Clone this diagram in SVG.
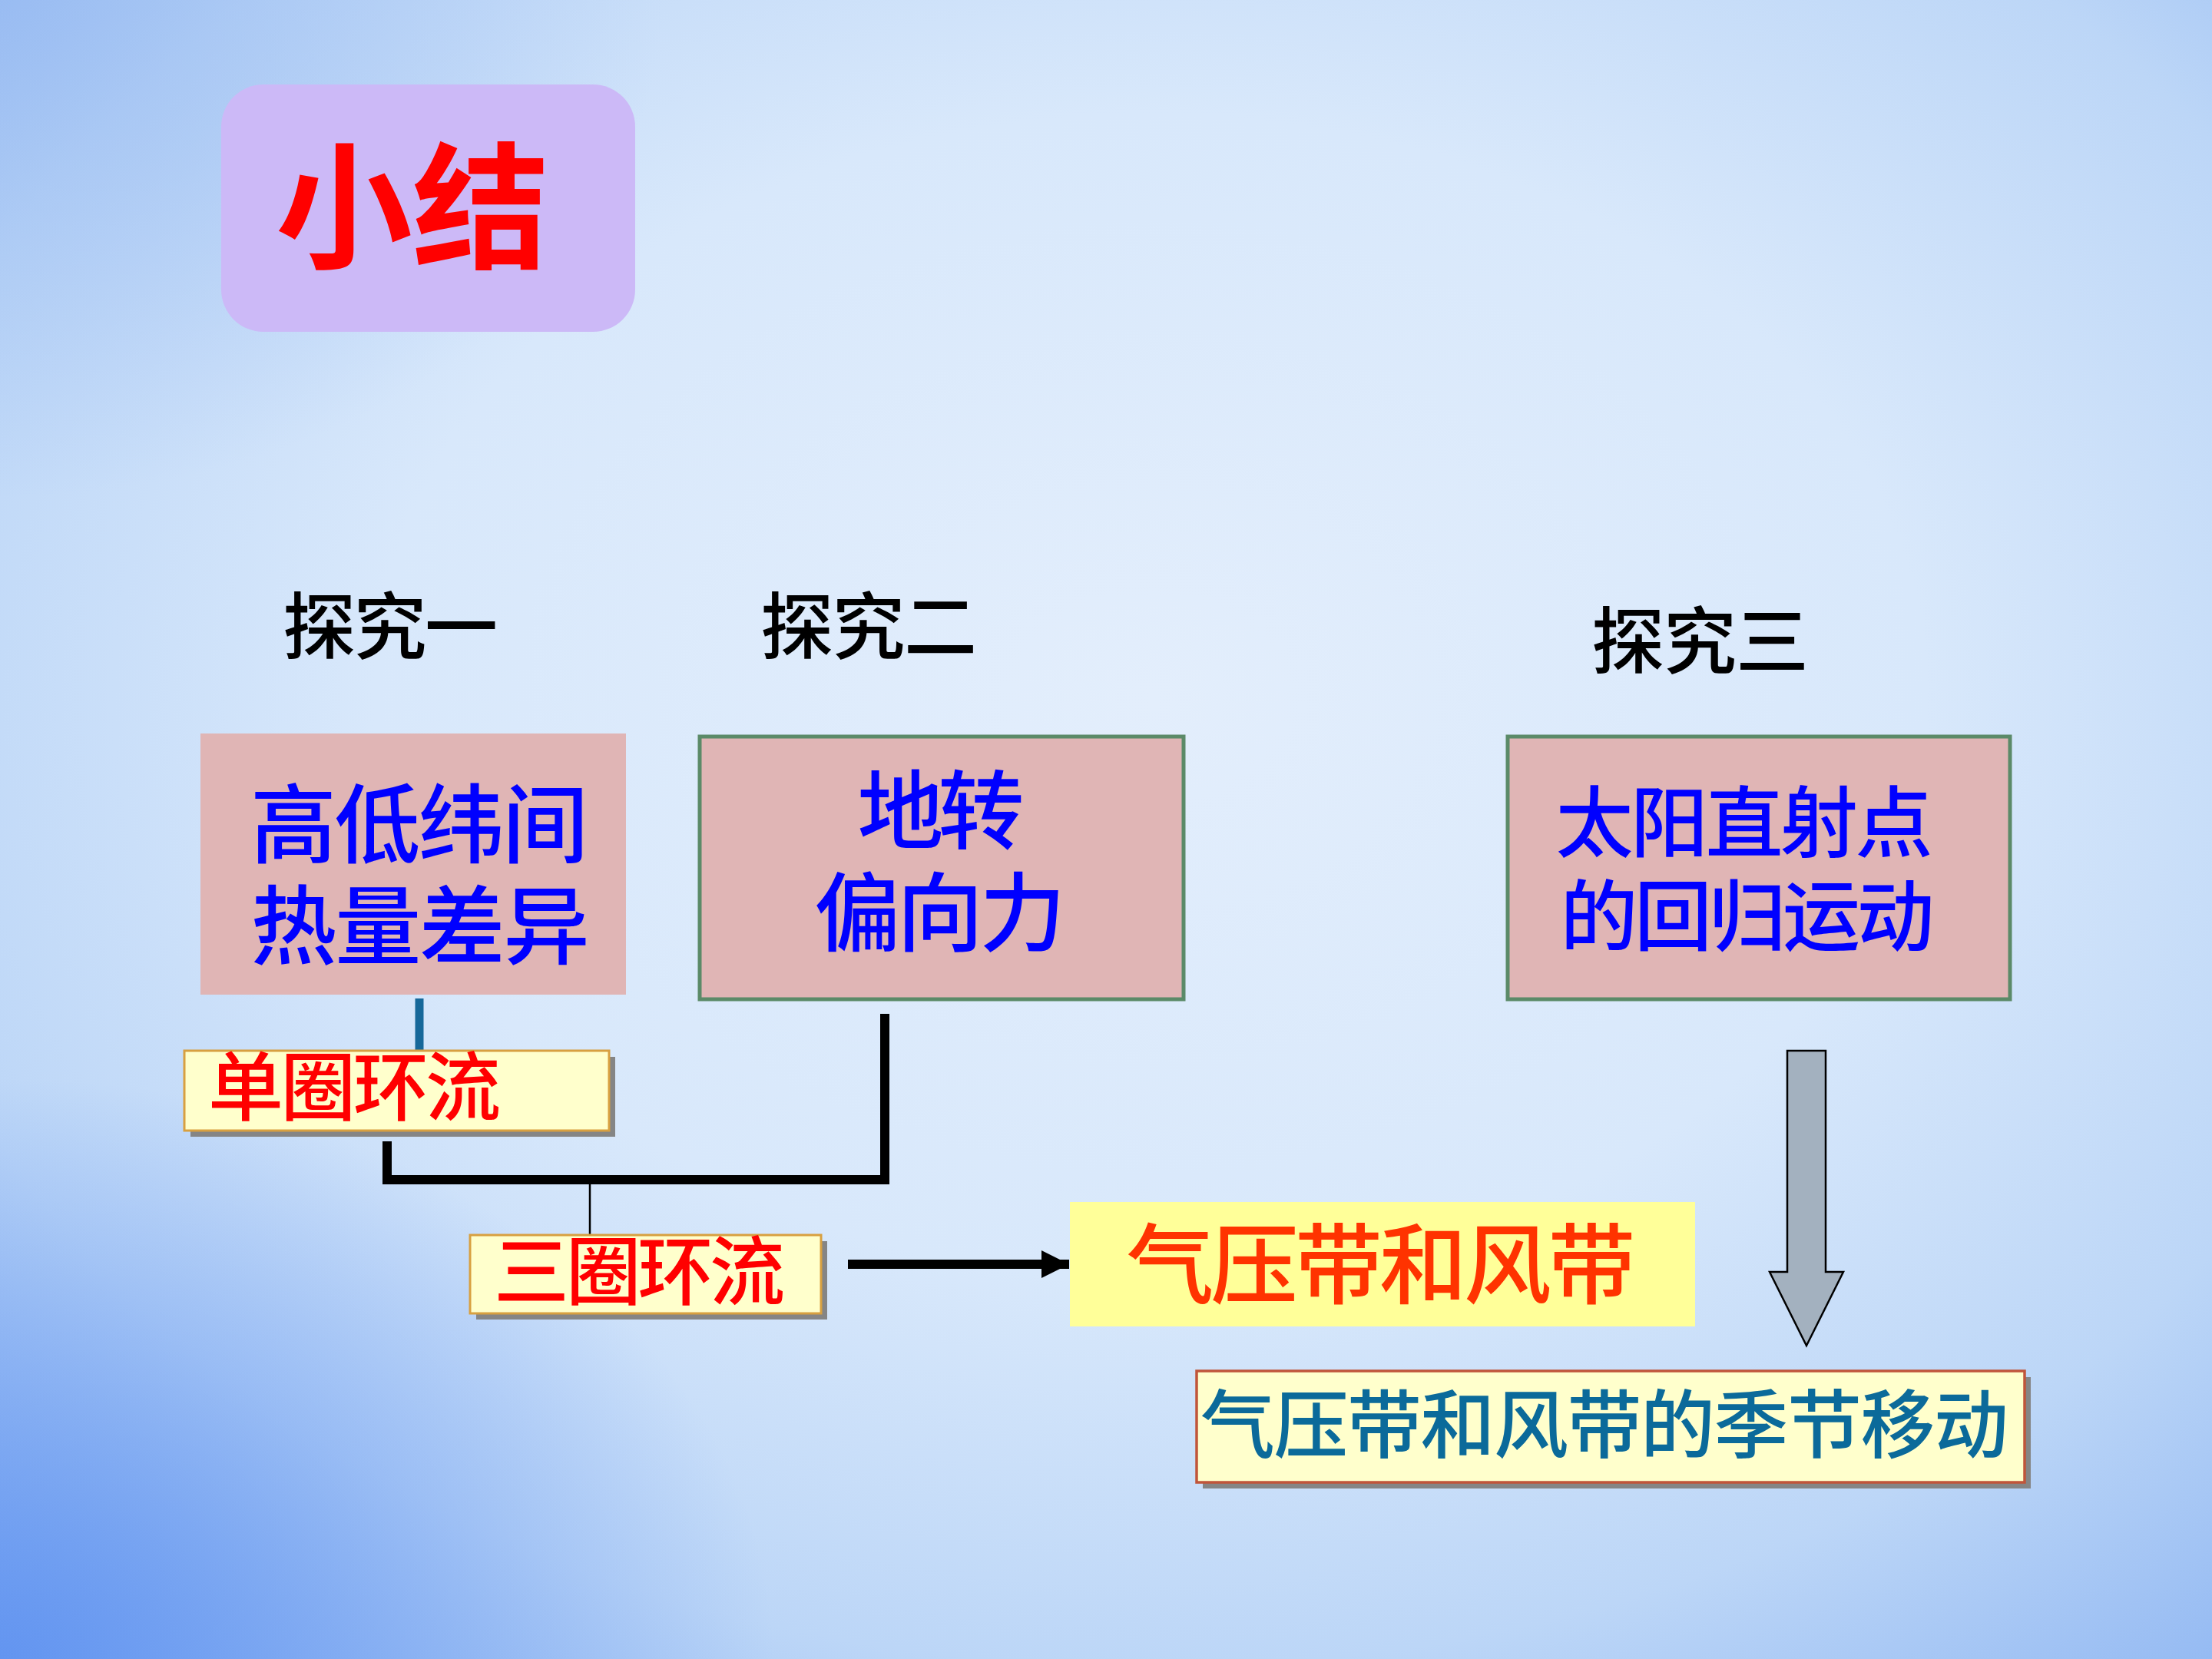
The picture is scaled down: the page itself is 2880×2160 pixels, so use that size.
<svg xmlns="http://www.w3.org/2000/svg" width="2880" height="2160" viewBox="0 0 2880 2160">
  <defs>
    <radialGradient id="bg" cx="0.52" cy="0.42" r="0.78" gradientUnits="objectBoundingBox">
      <stop offset="0" stop-color="#e3eefc"/>
      <stop offset="0.45" stop-color="#d8e8fb"/>
      <stop offset="0.75" stop-color="#bcd6f7"/>
      <stop offset="1" stop-color="#8fb6f2"/>
    </radialGradient>
    <radialGradient id="bl" cx="0" cy="1" r="0.35" gradientUnits="objectBoundingBox">
      <stop offset="0" stop-color="#5b8ff0" stop-opacity="0.85"/>
      <stop offset="1" stop-color="#5b8ff0" stop-opacity="0"/>
    </radialGradient>
    <radialGradient id="tl" cx="0" cy="0" r="0.3" gradientUnits="objectBoundingBox">
      <stop offset="0" stop-color="#8fb4f0" stop-opacity="0.6"/>
      <stop offset="1" stop-color="#8fb4f0" stop-opacity="0"/>
    </radialGradient>
    <marker id="arrowHead" viewBox="0 0 36 36" refX="36" refY="18" markerWidth="36" markerHeight="36" markerUnits="userSpaceOnUse" orient="auto">
      <path d="M0,0 L36,18 L0,36 Z" fill="#000"/>
    </marker>
  </defs>
  <style>
    text { font-family: "Noto Sans CJK SC", "Noto Sans", sans-serif; font-weight: 500; }
    .head { font-size: 95px; fill: #000; }
    .pink { fill: #e0b5b5; }
    .pinkb { fill: #e0b5b5; stroke: #5b8a68; stroke-width: 5; }
    .blue { font-size: 112px; fill: #0000ff; text-anchor: middle; }
    .blue3 { font-size: 101px; fill: #0000ff; text-anchor: middle; }
    .yel { fill: #ffffcc; stroke: #d8a040; stroke-width: 3; }
    .shadow { fill: #858585; }
    .red { font-size: 98px; fill: #ff0000; }
    .conn { stroke: #000; fill: none; stroke-width: 12; }
  </style>

  <rect width="2880" height="2160" fill="url(#bg)"/>
  <rect width="2880" height="2160" fill="url(#bl)"/>
  <rect width="2880" height="2160" fill="url(#tl)"/>

  <g id="title">
    <rect x="288" y="110" width="539" height="322" rx="55" ry="55" fill="#ccb9f7"/>
    <text x="537" y="336" font-size="178" style="font-weight:bold" fill="#ff0000" text-anchor="middle">小结</text>
  </g>

  <g id="head1"><text class="head" x="368" y="851" textLength="280" lengthAdjust="spacing">探究一</text></g>
  <g id="head2"><text class="head" x="990" y="851" textLength="282" lengthAdjust="spacing">探究二</text></g>
  <g id="head3"><text class="head" x="2072" y="870" textLength="283" lengthAdjust="spacing">探究三</text></g>

  <g id="connectors">
    <line x1="546" y1="1300" x2="546" y2="1370" stroke="#16689a" stroke-width="11"/>
    <polyline class="conn" points="504,1486 504,1536 1152,1536 1152,1320"/>
    <line x1="768" y1="1540" x2="768" y2="1609" stroke="#000" stroke-width="2.5"/>
    <line x1="1104" y1="1646" x2="1392" y2="1646" stroke="#000" stroke-width="12" marker-end="url(#arrowHead)"/>
    <path d="M2327,1368 L2377,1368 L2377,1656 L2400,1656 L2352,1752 L2304,1656 L2327,1656 Z" fill="#a3b1bf" stroke="#000" stroke-width="2.5"/>
  </g>

  <g id="box1">
    <rect class="pink" x="261" y="955" width="554" height="340"/>
    <text class="blue" x="546" y="1115" textLength="440" lengthAdjust="spacing">高低纬间</text>
    <text class="blue" x="547" y="1247" textLength="441" lengthAdjust="spacing">热量差异</text>
  </g>

  <g id="box2">
    <rect class="pinkb" x="911" y="959" width="630" height="342"/>
    <text class="blue" x="1225" y="1097" textLength="217" lengthAdjust="spacing">地转</text>
    <text class="blue" x="1224" y="1230" textLength="327" lengthAdjust="spacing">偏向力</text>
  </g>

  <g id="box3">
    <rect class="pinkb" x="1963" y="959" width="654" height="342"/>
    <text class="blue3" x="2271" y="1108" textLength="491" lengthAdjust="spacing">太阳直射点</text>
    <text class="blue3" x="2275" y="1230" textLength="487" lengthAdjust="spacing">的回归运动</text>
  </g>

  <g id="single">
    <rect class="shadow" x="248" y="1376" width="553" height="104"/>
    <rect class="yel" x="240" y="1368" width="553" height="104"/>
    <text class="red" x="271" y="1451" textLength="381" lengthAdjust="spacing">单圈环流</text>
  </g>

  <g id="three">
    <rect class="shadow" x="620" y="1616" width="457" height="102"/>
    <rect class="yel" x="612" y="1608" width="457" height="102"/>
    <text class="red" x="643" y="1691" textLength="379" lengthAdjust="spacing">三圈环流</text>
  </g>

  <g id="belts">
    <rect x="1393" y="1565" width="814" height="162" fill="#ffff99"/>
    <text x="1798" y="1688" font-size="114" fill="#ff3300" text-anchor="middle" textLength="663" lengthAdjust="spacing">气压带和风带</text>
  </g>

  <g id="seasonal">
    <rect class="shadow" x="1566" y="1793" width="1078" height="145"/>
    <rect x="1558" y="1785" width="1078" height="145" fill="#ffffcc" stroke="#c0553a" stroke-width="3.5"/>
    <text x="1563" y="1890" font-size="97" fill="#0b6a9a" textLength="1052" lengthAdjust="spacing">气压带和风带的季节移动</text>
  </g>
</svg>
